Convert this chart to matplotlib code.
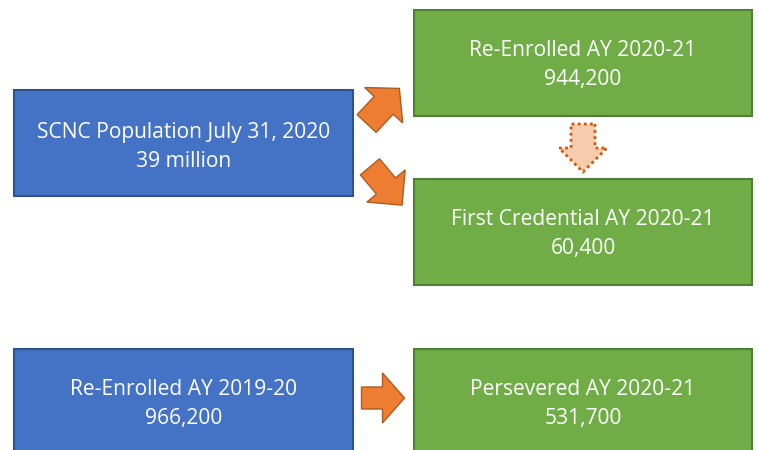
import numpy as np
import matplotlib.pyplot as plt
from matplotlib.patches import Rectangle, Polygon

# Box texts
titles = ["SCNC Population July 31, 2020", "Re-Enrolled AY 2020-21",
          "First Credential AY 2020-21", "Re-Enrolled AY 2019-20",
          "Persevered AY 2020-21"]
values = ["39 million", "944,200", "60,400", "966,200", "531,700"]

BLUE, BLUE_EDGE = "#4472C4", "#2F528F"
GREEN, GREEN_EDGE = "#70AD47", "#507E32"
ORANGE, ORANGE_EDGE = "#ED7D31", "#AE5A21"

# box geometry in pixel coords: x, y(top), w, h, colour
boxes = [
    (14, 90, 339, 106, "blue"),
    (414, 10, 338, 106, "green"),
    (414, 179, 338, 106, "green"),
    (14, 349, 339, 110, "blue"),
    (414, 349, 338, 110, "green"),
]
text_y = [147, 65, 234, 404, 404]

fig = plt.figure(figsize=(7.59, 4.5), dpi=100)
ax = fig.add_axes([0, 0, 1, 1])
ax.set_xlim(0, 759)
ax.set_ylim(450, 0)
ax.axis("off")

for (x, y, w, h, c), t, v, ty in zip(boxes, titles, values, text_y):
    fc, ec = (BLUE, BLUE_EDGE) if c == "blue" else (GREEN, GREEN_EDGE)
    ax.add_patch(Rectangle((x, y), w, h, facecolor=fc, edgecolor=ec, lw=1.5))
    ax.text(x + w / 2, ty, t + "\n" + v, color="white", ha="center",
            va="center", fontsize=15.1, family="Open Sans", linespacing=1.47)


def arrow(cx, cy, length, head_len, head_w, shaft_w, angle, **kw):
    # block arrow pointing along +x, then rotated (angle in degrees, screen coords)
    L = length / 2
    pts = np.array([
        [-L, -shaft_w / 2], [L - head_len, -shaft_w / 2], [L - head_len, -head_w / 2],
        [L, 0], [L - head_len, head_w / 2], [L - head_len, shaft_w / 2],
        [-L, shaft_w / 2]])
    a = np.deg2rad(angle)
    rot = np.array([[np.cos(a), -np.sin(a)], [np.sin(a), np.cos(a)]])
    pts = pts @ rot.T + [cx, cy]
    ax.add_patch(Polygon(pts, closed=True, **kw))


solid = dict(facecolor=ORANGE, edgecolor=ORANGE_EDGE, lw=1)
arrow(383, 106, 48, 23, 52, 26, -47, **solid)
arrow(386, 186, 50, 25, 50, 25, 50, **solid)
arrow(383, 398, 43, 22, 50, 22, 0, **solid)
arrow(583, 148, 48, 24, 48, 24, 90, facecolor="#F8CBAD",
      edgecolor="#C55A11", lw=2, linestyle=(0, (1, 1.2)))

fig.savefig("out.png", dpi=100)
